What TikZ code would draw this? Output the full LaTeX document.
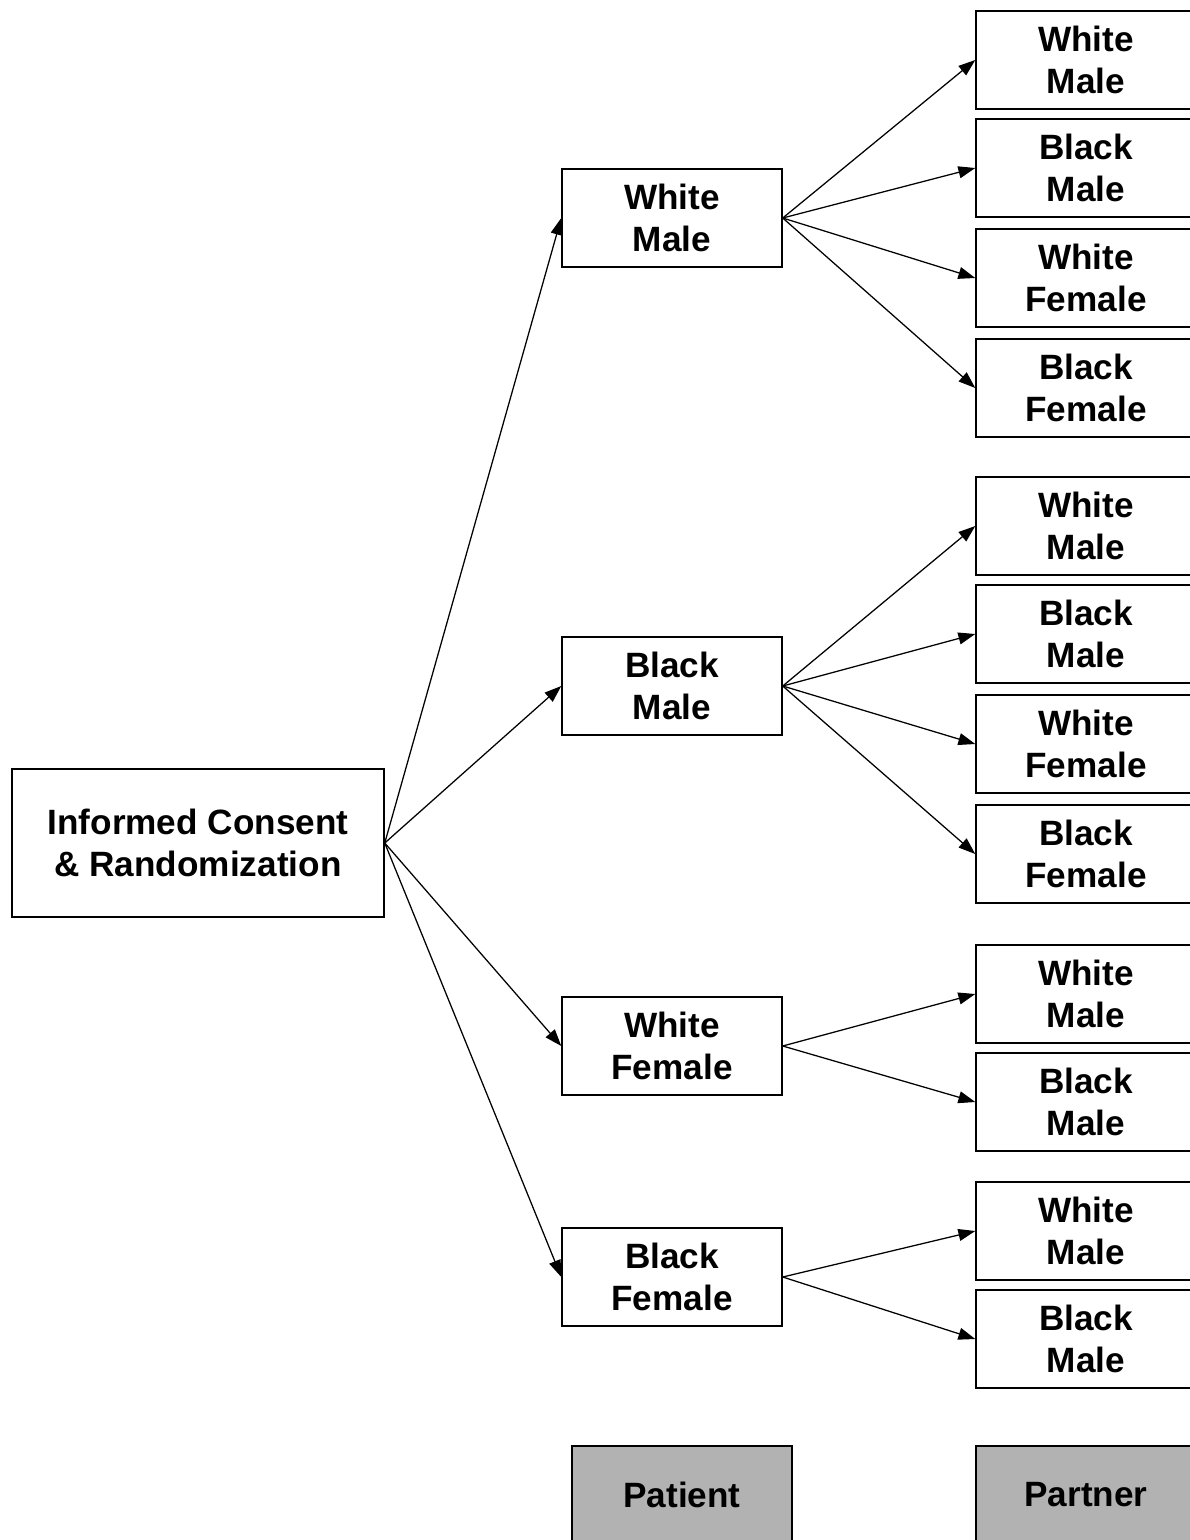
\documentclass[tikz,border=0pt]{standalone}
\usepackage{fontspec}
\setmainfont{Liberation Sans}
\usetikzlibrary{arrows.meta}
\begin{document}
\begin{tikzpicture}[x=0.025cm, y=-0.025cm,
    box/.style={draw, line width=1pt, minimum width=5.5cm, minimum height=2.45cm,
      align=center, inner sep=0pt, font=\fontsize{25}{30}\selectfont\bfseries},
    rootbox/.style={box, minimum width=9.3cm, minimum height=3.7cm},
    rolebox/.style={box, fill=black!30},
    arr/.style={-{Triangle[length=12pt,width=8.5pt]}, line width=0.9pt}]
	\useasboundingbox (0,0) rectangle (1190,1540);
	\node[rootbox] (root) at (198,843) {Informed Consent\\\& Randomization};
	\node[box] (wm) at (672,218) {White\\Male};
	\node[box] (bm) at (672,686) {Black\\Male};
	\node[box] (wf) at (672,1046) {White\\Female};
	\node[box] (bf) at (672,1277) {Black\\Female};
      \foreach \n in {wm,bm,wf,bf}
	  \draw [arr] (root.east) -- (\n.west);
      \foreach \y/\a/\b/\n in {60/White/Male/wm, 168/Black/Male/wm, 278/White/Female/wm, 388/Black/Female/wm,
	526/White/Male/bm, 634/Black/Male/bm, 744/White/Female/bm, 854/Black/Female/bm,
	994/White/Male/wf, 1102/Black/Male/wf, 1231/White/Male/bf, 1339/Black/Male/bf}
	  {
	      \node[box] (r\y) at (1086,\y) {\a\\\b};
	      \draw [arr] (\n.east) -- (r\y.west);
	  }
	\node[rolebox] (patient) at (682,1495) {Patient};
	\node[rolebox] (partner) at (1086,1495) {Partner};
    \end{tikzpicture}
\end{document}
